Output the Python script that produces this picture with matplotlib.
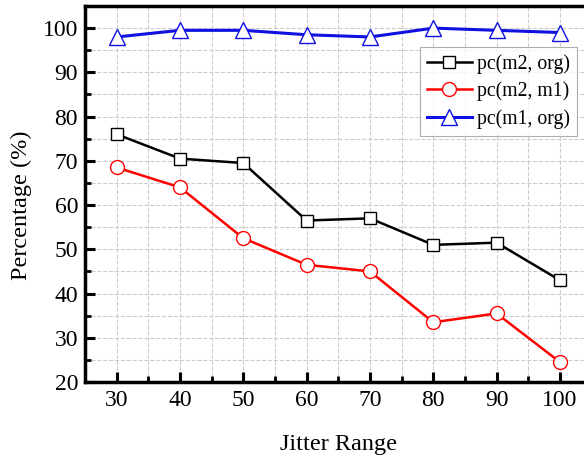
import matplotlib.pyplot as plt
from matplotlib.ticker import MultipleLocator

# Données
jitter = [30, 40, 50, 60, 70, 80, 90, 100]
pc_m2_org = [76, 70.5, 69.5, 56.5, 57, 51, 51.5, 43]
pc_m2_m1 = [68.5, 64, 52.5, 46.5, 45, 33.5, 35.5, 24.5]
pc_m1_org = [98, 99.5, 99.5, 98.5, 98, 100, 99.5, 99]

plt.rcParams['font.family'] = ['Liberation Serif', 'DejaVu Serif']

fig = plt.figure(figsize=(5.84, 4.59), dpi=100)
# axes: gauche 85px, haut 6px, bas 382px ; déborde à droite comme l'original
ax = fig.add_axes([85 / 584, (459 - 382) / 459, 506.6 / 584, 376 / 459])

ax.plot(jitter, pc_m2_org, color='black', lw=1.8, marker='s', ms=9,
        mfc='white', mec='black', mew=1, label='pc(m2, org)')
ax.plot(jitter, pc_m2_m1, color='red', lw=1.8, marker='o', ms=10,
        mfc='white', mec='red', mew=1, label='pc(m2, m1)')
ax.plot(jitter, pc_m1_org, color='#1010e0', lw=2.2, marker='^', ms=11,
        mfc='white', mec='#1010e0', mew=1, label='pc(m1, org)')

ax.set_xlim(25, 105)
ax.set_ylim(20, 105)
ax.xaxis.set_major_locator(MultipleLocator(10))
ax.xaxis.set_minor_locator(MultipleLocator(5))
ax.yaxis.set_major_locator(MultipleLocator(10))
ax.yaxis.set_minor_locator(MultipleLocator(5))

ax.grid(True, which='both', linestyle='--', color='#cccccc', lw=0.8)
ax.set_axisbelow(True)

for s in ax.spines.values():
    s.set_linewidth(2.5)
ax.tick_params(which='major', direction='in', length=7, width=2.2,
               labelsize=17)
ax.tick_params(axis='x', which='major', pad=6)
ax.tick_params(axis='y', which='major', pad=5)
ax.tick_params(which='minor', direction='in', length=4, width=2)

ax.set_xlabel('Jitter Range', fontsize=17.5, labelpad=16)
ax.set_ylabel('Percentage (%)', fontsize=17.5)
ax.yaxis.set_label_coords(-0.105, 0.47)

leg = ax.legend(loc='upper right', bbox_to_anchor=(0.971, 0.891),
                fontsize=14.2, frameon=True, fancybox=False,
                handlelength=2.3, handletextpad=0.25, borderpad=0.35,
                labelspacing=0.4, borderaxespad=0)
leg.get_frame().set_edgecolor('#999999')
leg.get_frame().set_linewidth(0.8)

plt.savefig('out.png', dpi=100)
plt.close()
